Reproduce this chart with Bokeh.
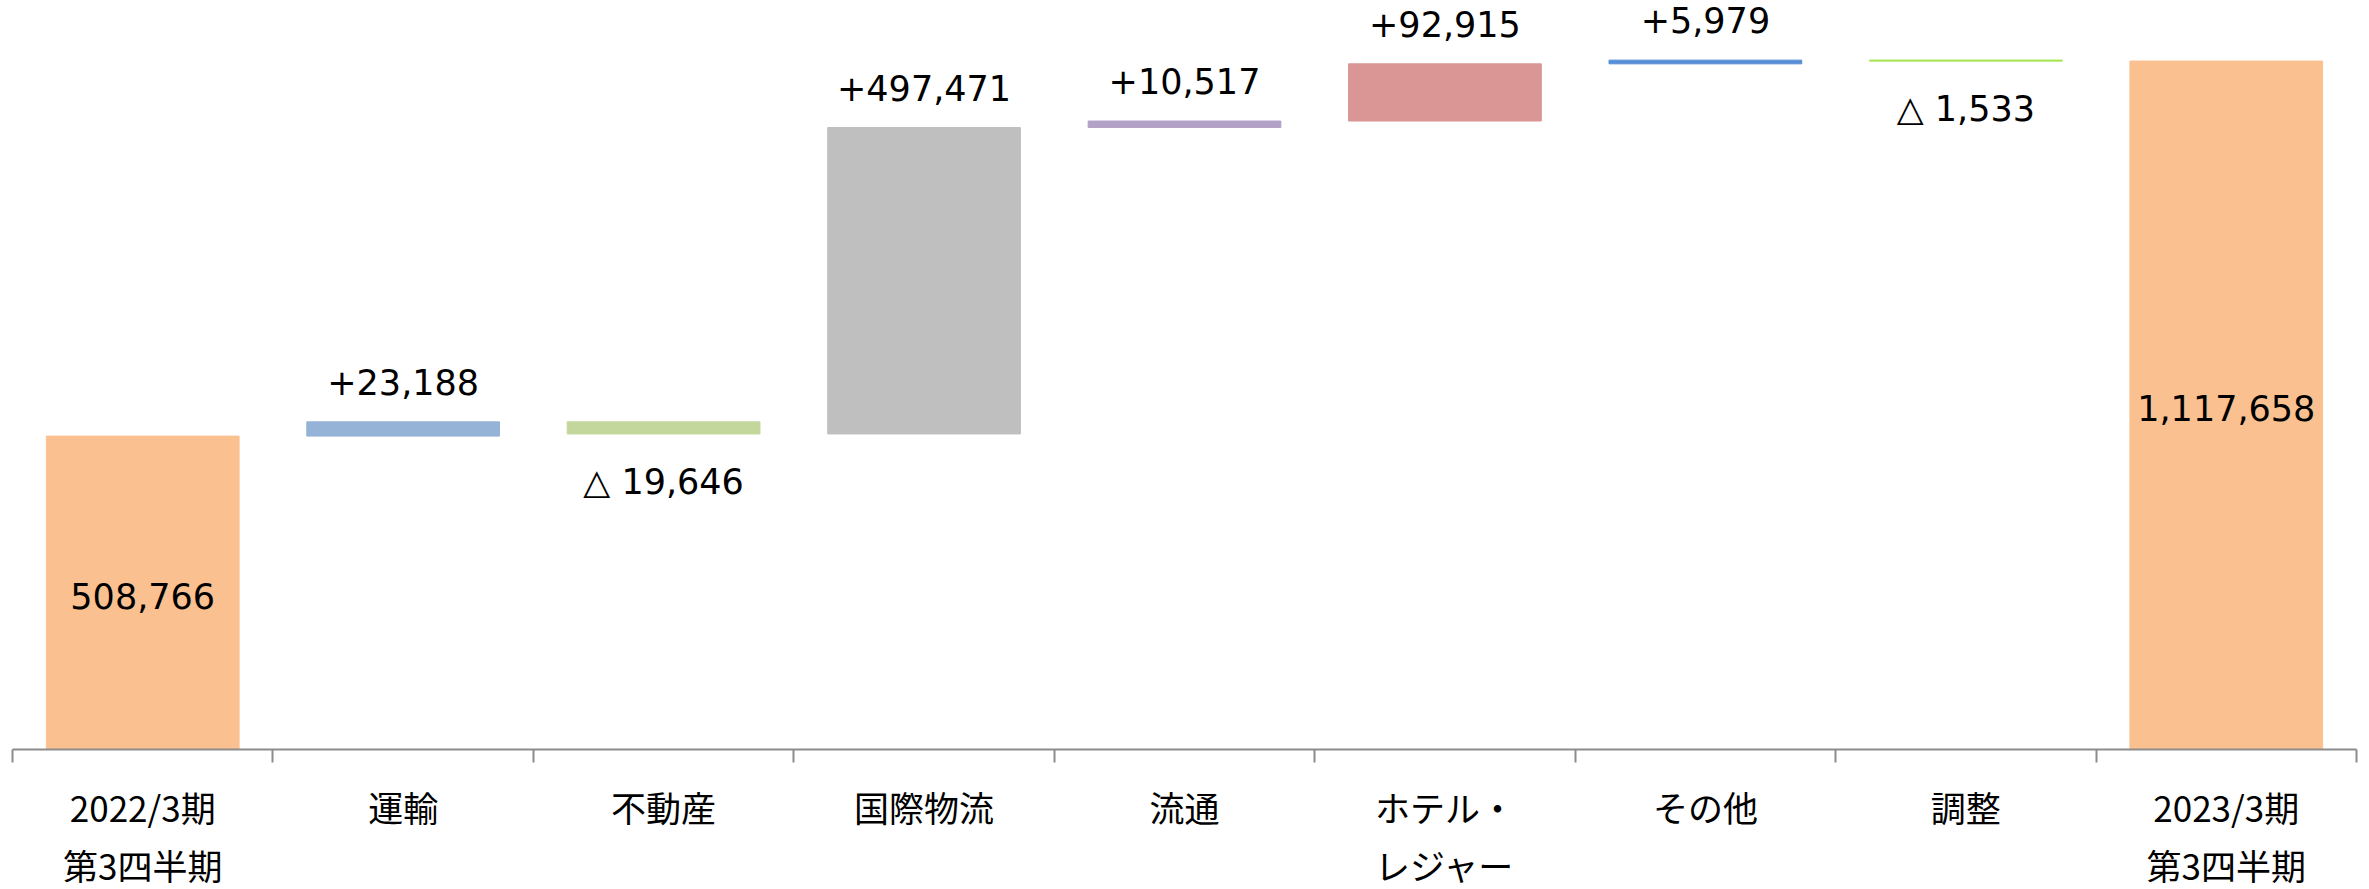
import numpy as np
from bokeh.plotting import figure
from bokeh.models import ColumnDataSource, Range1d, FixedTicker
from bokeh.core.properties import value
from bokeh.embed import file_html
from bokeh.resources import INLINE

# ---- data ----
categories = ["2022/3期\n第3四半期", "運輸", "不動産", "国際物流", "流通",
              "ホテル・\nレジャー", "その他", "調整", "2023/3期\n第3四半期"]
start_total = 508766
changes = [23188, -19646, 497471, 10517, 92915, 5979, -1533]
end_total = 1117658
colors = ["#FAC090", "#95B3D7", "#C3D69B", "#BFBFBF", "#B3A2C7",
          "#D99694", "#558ED5", "#9BE53D", "#FAC090"]

# ---- derived waterfall geometry ----
chg = np.array(changes, dtype=float)
after = start_total + np.cumsum(chg)
before = np.concatenate([[start_total], after[:-1]])
n = len(categories)
idx = list(range(n))
bottoms = [0.0] + list(np.minimum(before, after)) + [0.0]
tops = [float(start_total)] + list(np.maximum(before, after)) + [float(end_total)]

bars = ColumnDataSource(dict(x=idx, bottom=bottoms, top=tops, color=colors))

pos_i = [i + 1 for i, v in enumerate(changes) if v > 0]
neg_i = [i + 1 for i, v in enumerate(changes) if v < 0]
pos_src = ColumnDataSource(dict(
    x=pos_i, y=[tops[i] for i in pos_i],
    t=["+{:,}".format(changes[i - 1]) for i in pos_i]))
neg_src = ColumnDataSource(dict(
    x=neg_i, y=[bottoms[i] for i in neg_i],
    t=["△ {:,}".format(abs(changes[i - 1])) for i in neg_i]))
tot_src = ColumnDataSource(dict(
    x=[0, n - 1], y=[start_total / 2, end_total / 2],
    t=["{:,}".format(start_total), "{:,}".format(end_total)]))

p = figure(output_backend="svg", toolbar_location=None,
           frame_width=2344, frame_height=749,
           x_range=Range1d(-0.5, n - 0.5), y_range=Range1d(0, 1216000),
           y_axis_location=None,
           min_border_left=12, min_border_right=13, min_border_top=0,
           min_border_bottom=0)
p.outline_line_color = None
p.xgrid.visible = False
p.ygrid.visible = False
p.background_fill_color = "white"
p.border_fill_color = "white"

p.vbar(x="x", bottom="bottom", top="top", width=0.74, source=bars,
       fill_color="color", line_color="color", line_width=1)

lab_font = value("DejaVu Sans")
p.text(x="x", y="y", text="t", source=pos_src, text_font=lab_font,
       text_font_size="35px", text_align="center", text_baseline="alphabetic",
       y_offset=-40, text_color="black")
p.text(x="x", y="y", text="t", source=neg_src, text_font=lab_font,
       text_font_size="35px", text_align="center", text_baseline="alphabetic",
       y_offset=48, text_color="black")
p.text(x="x", y="y", text="t", source=tot_src, text_font=lab_font,
       text_font_size="35px", text_align="center", text_baseline="middle",
       y_offset=3, text_color="black")

ax = p.xaxis[0]
ax.ticker = FixedTicker(ticks=idx, minor_ticks=[i - 0.5 for i in range(n + 1)])
ax.major_label_overrides = {i: c for i, c in enumerate(categories)}
ax.axis_line_color = "#8C8C8C"
ax.axis_line_width = 2
ax.major_tick_line_color = None
ax.major_tick_in = 0
ax.major_tick_out = 0
ax.minor_tick_line_color = "#8C8C8C"
ax.minor_tick_line_width = 2
ax.minor_tick_in = 0
ax.minor_tick_out = 13
ax.major_label_text_font = "Noto Sans CJK JP"
ax.major_label_text_font_size = "35px"
ax.major_label_text_color = "black"
ax.major_label_text_line_height = 1.15
ax.major_label_standoff = 18

open("out.html", "w").write(file_html(p, INLINE))
